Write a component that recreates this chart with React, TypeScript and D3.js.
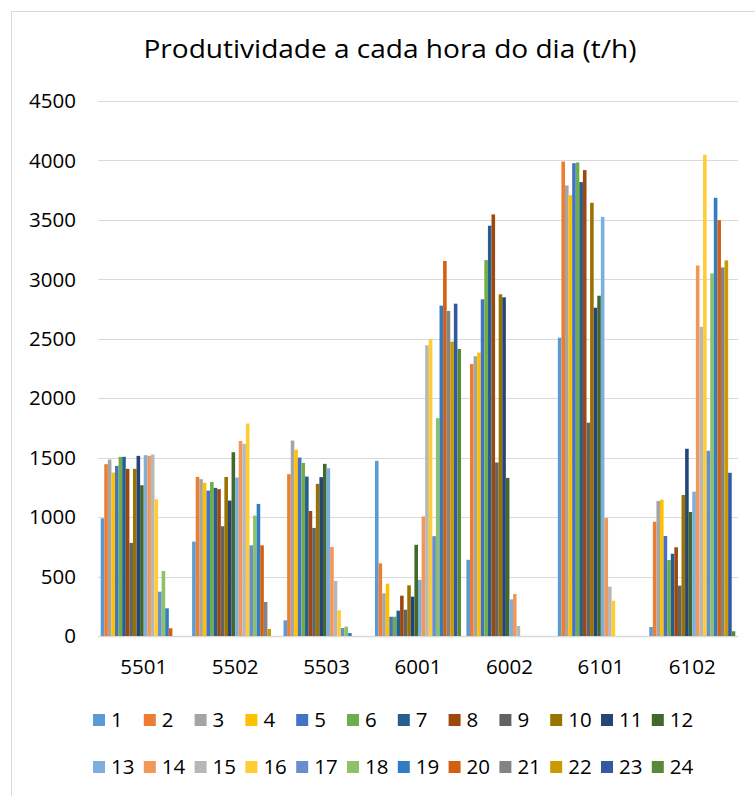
import { useEffect, useRef } from "react";
import * as d3 from "d3";

// categories (machines) on the x axis
const categories = ["5501", "5502", "5503", "6001", "6002", "6101", "6102"];
// hours of the day = series
const hours = d3.range(1, 25).map(String);

// values per category, hour 1..24 (t/h)
const v5501 = [990, 1445, 1484, 1375, 1431, 1507, 1507, 1406, 783, 1406, 1515, 1268, 1521, 1515, 1526, 1150, 373, 547, 233, 65, 0, 0, 0, 0];
const v5502 = [794, 1338, 1319, 1288, 1223, 1296, 1246, 1235, 923, 1338, 1139, 1546, 1333, 1641, 1616, 1787, 763, 1013, 1111, 763, 286, 59, 0, 0];
const v5503 = [132, 1361, 1644, 1566, 1501, 1456, 1341, 1052, 909, 1280, 1336, 1448, 1411, 749, 463, 216, 67, 79, 25, 0, 0, 0, 0, 0];
const v6001 = [1473, 611, 359, 440, 162, 162, 213, 339, 221, 426, 331, 767, 473, 1006, 2445, 2499, 840, 1832, 2779, 3154, 2734, 2476, 2795, 2414];
const v6002 = [641, 2288, 2353, 2384, 2832, 3162, 3451, 3546, 1459, 2874, 2849, 1330, 308, 353, 84, 0, 0, 0, 0, 0, 0, 0, 0, 0];
const v6101 = [2509, 3991, 3790, 3708, 3977, 3983, 3818, 3919, 1794, 3644, 2761, 2862, 3526, 992, 415, 297, 0, 0, 0, 0, 0, 0, 0, 0];
const v6102 = [76, 961, 1135, 1146, 841, 639, 692, 746, 423, 1186, 1575, 1043, 1214, 3117, 2601, 4048, 1558, 3050, 3686, 3498, 3100, 3159, 1373, 40];

const yTicks = [0, 500, 1000, 1500, 2000, 2500, 3000, 3500, 4000, 4500];

const colors = [
  "#5B9BD5", "#ED7D31", "#A5A5A5", "#FFC000", "#4472C4", "#70AD47",
  "#255E91", "#9E480E", "#636363", "#997300", "#264478", "#43682B",
  "#7CAFDD", "#F1975A", "#B7B7B7", "#FFCD33", "#698ED0", "#8CC168",
  "#327DC2", "#D26012", "#848484", "#CC9A00", "#335AA1", "#5A8A39",
];

const App = () => {
  const ref = useRef<SVGSVGElement | null>(null);

  useEffect(() => {
    if (!ref.current) return;
    const svg = d3.select(ref.current);
    svg.selectAll("*").remove();

    const width = 755;
    const height = 796;
    const left = 98;
    const right = 738;
    const top = 101;
    const bottom = 636;
    const font = "'Open Sans', 'Liberation Sans', sans-serif";

    const table = [v5501, v5502, v5503, v6001, v6002, v6101, v6102];

    // chart border
    svg
      .append("rect")
      .attr("x", 11.5)
      .attr("y", 11.5)
      .attr("width", width)
      .attr("height", height)
      .attr("fill", "#fff")
      .attr("stroke", "#d9d9d9");

    // title
    svg
      .append("text")
      .attr("x", 390)
      .attr("y", 58)
      .attr("text-anchor", "middle")
      .attr("font-family", font)
      .attr("font-size", 26)
      .attr("textLength", 493)
      .attr("lengthAdjust", "spacingAndGlyphs")
      .attr("fill", "#000")
      .text("Produtividade a cada hora do dia (t/h)");

    const y = d3.scaleLinear().domain([0, 4500]).range([bottom, top]);
    const x = d3.scaleBand().domain(categories).range([left, right]).padding(0);
    const xi = d3
      .scaleBand()
      .domain(hours)
      .range([0, x.bandwidth()])
      .paddingInner(0)
      .paddingOuter(0.75);

    // gridlines + y labels
    const grid = svg.append("g");
    yTicks.forEach((t) => {
      grid
        .append("line")
        .attr("x1", left)
        .attr("x2", right)
        .attr("y1", Math.round(y(t)) + 0.5)
        .attr("y2", Math.round(y(t)) + 0.5)
        .attr("stroke", "#d9d9d9")
        .attr("stroke-width", t === 0 ? 1.5 : 1);
      grid
        .append("text")
        .attr("x", 76)
        .attr("y", y(t))
        .attr("dy", "0.35em")
        .attr("text-anchor", "end")
        .attr("font-family", font)
        .attr("font-size", 20.5)
        .attr("fill", "#000")
        .text(t);
    });

    // bars
    const bars = svg.append("g");
    categories.forEach((c, ci) => {
      hours.forEach((h, hi) => {
        const val = table[ci][hi];
        if (!val) return;
        bars
          .append("rect")
          .attr("x", (x(c) as number) + (xi(h) as number))
          .attr("y", y(val))
          .attr("width", xi.bandwidth())
          .attr("height", y(0) - y(val))
          .attr("fill", colors[hi]);
      });
    });

    // x labels
    categories.forEach((c) => {
      svg
        .append("text")
        .attr("x", (x(c) as number) + x.bandwidth() / 2)
        .attr("y", 674)
        .attr("text-anchor", "middle")
        .attr("font-family", font)
        .attr("font-size", 20.5)
        .attr("fill", "#000")
        .text(c);
    });

    // legend, 2 rows of 12
    const legX = d3.scaleBand().domain(d3.range(12).map(String)).range([93, 93 + 12 * 50.8]);
    const rowY = [720, 767];
    hours.forEach((h, i) => {
      const g = svg
        .append("g")
        .attr("transform", `translate(${legX(String(i % 12))},${rowY[Math.floor(i / 12)]})`);
      g.append("rect")
        .attr("x", 0)
        .attr("y", -6)
        .attr("width", 12)
        .attr("height", 12)
        .attr("fill", colors[i]);
      g.append("text")
        .attr("x", 18)
        .attr("y", 0)
        .attr("dy", "0.35em")
        .attr("font-family", font)
        .attr("font-size", 20.5)
        .attr("fill", "#000")
        .text(h);
    });
  }, []);

  return (
    <svg
      ref={ref}
      width={755}
      height={796}
      style={{ position: "absolute", left: 0, top: 0, display: "block" }}
    />
  );
};

export default App;
